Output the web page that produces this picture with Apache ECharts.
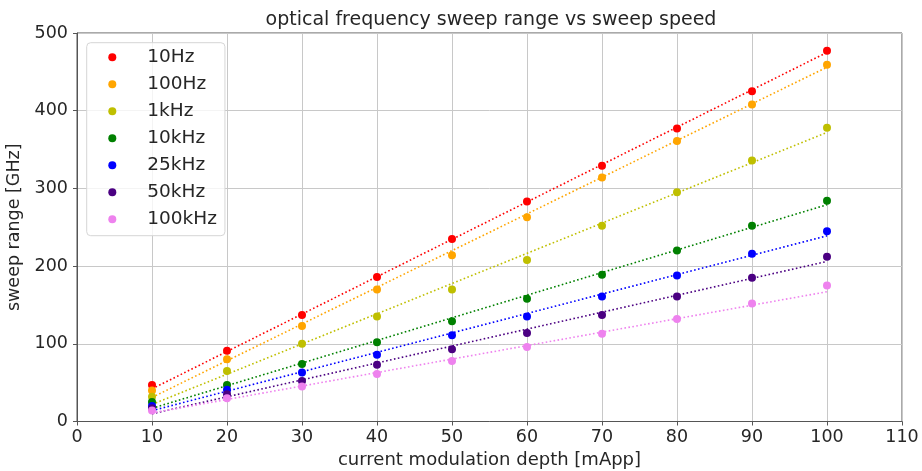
<!DOCTYPE html>
<html>
<head>
<meta charset="utf-8">
<script src="https://cdn.jsdelivr.net/npm/echarts@6/dist/echarts.min.js"></script>
<style>html,body{margin:0;padding:0;background:#fff}#c{width:922px;height:471px}</style>
</head>
<body>
<div id="c"></div>
<script>
var depth = [10, 20, 30, 40, 50, 60, 70, 80, 90, 100];
var names = ['10Hz', '100Hz', '1kHz', '10kHz', '25kHz', '50kHz', '100kHz'];
var colors = ['#ff0000', '#ffa500', '#bfbf00', '#008000', '#0000ff', '#4b0082', '#ee82ee'];
var s10Hz   = [47, 91, 137, 186, 235, 283, 329, 377, 425, 477];
var s100Hz  = [40, 80, 123, 170, 214, 263, 314, 361, 408, 459];
var s1kHz   = [32, 65, 100, 135, 170, 208, 252, 295, 336, 378];
var s10kHz  = [25, 47, 74, 102, 129, 158, 189, 220, 252, 284];
var s25kHz  = [20, 41, 63, 86, 111, 135, 161, 188, 216, 245];
var s50kHz  = [17, 35, 52, 73, 93, 114, 137, 161, 185, 212];
var s100kHz = [14, 30, 45, 61, 78, 96, 113, 132, 152, 175];
// dotted fit lines: value at depth 10 and at depth 100
var fitX = [10, 100];
var fit10Hz   = [42, 475];
var fit100Hz  = [31, 456];
var fit1kHz   = [22, 372];
var fit10kHz  = [17, 279];
var fit25kHz  = [14, 239];
var fit50kHz  = [10, 206];
var fit100kHz = [11, 167];
var yTicks = [0, 100, 200, 300, 400, 500];
var xTicks = [0, 10, 20, 30, 40, 50, 60, 70, 80, 90, 100, 110];

var allData = [s10Hz, s100Hz, s1kHz, s10kHz, s25kHz, s50kHz, s100kHz];
var allFit = [fit10Hz, fit100Hz, fit1kHz, fit10kHz, fit25kHz, fit50kHz, fit100kHz];
var font = 'DejaVu Sans';
var txt = '#262626';
var series = [];
allFit.forEach(function (f, i) {
  series.push({
    type: 'line', silent: true, symbol: 'none', z: 2,
    data: fitX.map(function (x, j) { return [x, f[j]]; }),
    lineStyle: { color: colors[i], width: 1.6, type: [1.6, 2.4] }
  });
});
allData.forEach(function (d, i) {
  series.push({
    name: names[i], type: 'scatter', symbol: 'circle', symbolSize: 8, z: 3,
    itemStyle: { color: colors[i], opacity: 1 },
    data: depth.map(function (x, j) { return [x, d[j]]; })
  });
});

var chart = echarts.init(document.getElementById('c'), null, { renderer: 'canvas' });
chart.setOption({
  animation: false,
  backgroundColor: '#ffffff',
  title: {
    text: 'optical frequency sweep range vs sweep speed',
    left: 486, top: 6, textAlign: 'center',
    textStyle: { fontFamily: font, fontSize: 19, fontWeight: 'normal', color: txt }
  },
  grid: { left: 77, right: 20, top: 33, bottom: 49.5, containLabel: false, outerBoundsMode: 'none',
    show: true, borderColor: '#555', borderWidth: 1, backgroundColor: 'transparent' },
  legend: {
    data: names, orient: 'vertical', left: 86.7, top: 42.7,
    icon: 'circle', itemWidth: 8, itemHeight: 8, itemGap: 8,
    padding: [5, 8, 7, 21.6],
    backgroundColor: 'rgba(255,255,255,0.8)', borderColor: '#d6d6d6', borderWidth: 1, borderRadius: 4,
    textStyle: { fontFamily: font, fontSize: 18.5, color: txt, lineHeight: 18.5, padding: [0, 0, 0, 26] }
  },
  xAxis: {
    type: 'value', min: 0, max: 110, interval: 10,
    name: 'current modulation depth [mApp]', nameLocation: 'middle', nameGap: 28,
    nameTextStyle: { fontFamily: font, fontSize: 18, color: txt },
    axisLine: { show: true, onZero: false, lineStyle: { color: '#555' } },
    axisTick: { show: true, inside: false, length: 4, lineStyle: { color: '#555' } },
    axisLabel: { fontFamily: font, fontSize: 17.5, color: txt, margin: 7,
      formatter: function (v) { return xTicks.indexOf(v) >= 0 ? String(v) : ''; } },
    splitLine: { show: true, lineStyle: { color: '#c8c8c8', width: 1 } }
  },
  yAxis: {
    type: 'value', min: 0, max: 500, interval: 100,
    name: 'sweep range [GHz]', nameLocation: 'middle', nameGap: 52, nameRotate: 90,
    nameTextStyle: { fontFamily: font, fontSize: 17.5, color: txt },
    axisLine: { show: true, onZero: false, lineStyle: { color: '#555' } },
    axisTick: { show: true, inside: false, length: 4, lineStyle: { color: '#555' } },
    axisLabel: { fontFamily: font, fontSize: 17.5, color: txt, margin: 9,
      formatter: function (v) { return yTicks.indexOf(v) >= 0 ? String(v) : ''; } },
    splitLine: { show: true, lineStyle: { color: '#c8c8c8', width: 1 } }
  },
  series: series
});
</script>
</body>
</html>
